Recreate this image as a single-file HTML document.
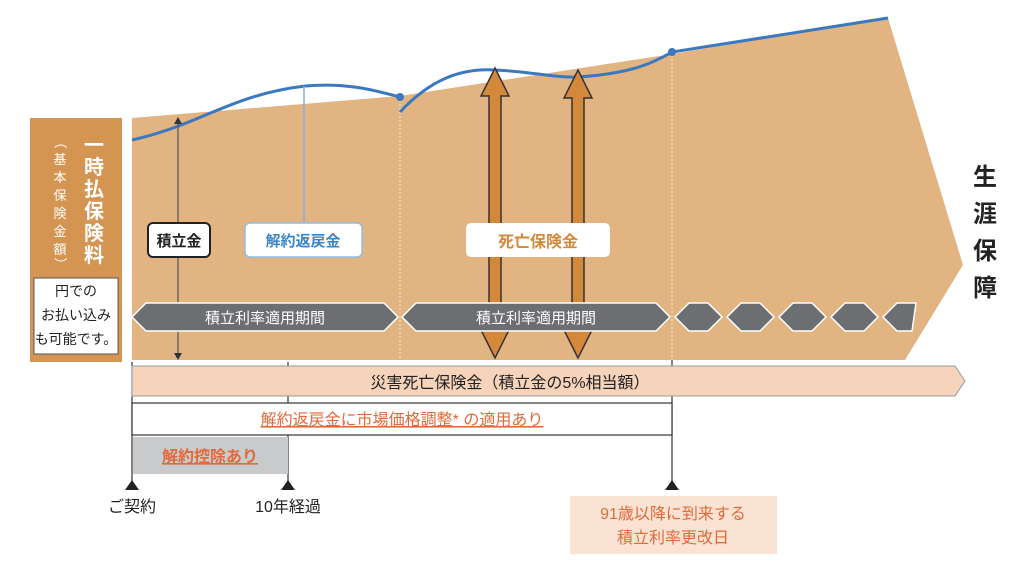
<!DOCTYPE html>
<html><head><meta charset="utf-8"><style>
body{margin:0;background:#fff}
svg text{font-family:"Liberation Sans","Noto Sans CJK JP",sans-serif}
</style></head><body>
<svg width="1024" height="568" viewBox="0 0 1024 568" xmlns="http://www.w3.org/2000/svg">
<polygon points="132,118 400,96 672,54 888,18 963,265 905,360 132,360" fill="#e2b482"/>
<line x1="400" y1="100" x2="400" y2="360" stroke="#f5e6d3" stroke-dasharray="2,2"/>
<line x1="672" y1="55" x2="672" y2="360" stroke="#f5e6d3" stroke-dasharray="2,2"/>
<rect x="30" y="118" width="92" height="244" fill="#d49552"/>
<rect x="34" y="278" width="84" height="76" fill="#fff" stroke="#555" stroke-width="1"/>
<text x="76" y="296" font-size="14" text-anchor="middle" fill="#222">円での</text>
<text x="76" y="320" font-size="14" text-anchor="middle" fill="#222">お払い込み</text>
<text x="76" y="344" font-size="14" text-anchor="middle" fill="#222">も可能です。</text>
<g font-size="20" font-weight="bold" fill="#fff" text-anchor="middle">
<text x="94" y="152">一</text><text x="94" y="174">時</text><text x="94" y="196">払</text><text x="94" y="218">保</text><text x="94" y="240">険</text><text x="94" y="262">料</text>
</g>
<g font-size="13" fill="#fff" text-anchor="middle">
<text x="60" y="146" transform="rotate(90 60 142)">（</text>
<text x="60" y="164">基</text><text x="60" y="182">本</text><text x="60" y="200">保</text><text x="60" y="218">険</text><text x="60" y="236">金</text><text x="60" y="254">額</text>
<text x="60" y="268" transform="rotate(90 60 264)">）</text>
</g>
<path d="M132,140 C200,125 230,95 305,86 C350,82 380,92 400,97" fill="none" stroke="#3a78bf" stroke-width="3"/>
<path d="M400,112 C430,80 460,68 495,70 C540,72 560,80 590,76 C630,72 650,65 672,52 L888,18" fill="none" stroke="#3a78bf" stroke-width="3"/>
<circle cx="400" cy="97" r="4" fill="#3a78bf"/>
<circle cx="672" cy="52" r="4" fill="#3a78bf"/>
<line x1="304" y1="86" x2="304" y2="222" stroke="#7fb0de" stroke-width="1.5"/>
<line x1="178" y1="122" x2="178" y2="354" stroke="#555" stroke-width="1.2"/>
<polygon points="174,124 182,124 178,117" fill="#333"/>
<polygon points="174,353 182,353 178,360" fill="#333"/>
<g fill="#d4883a" stroke="#333" stroke-width="1.5">
<polygon points="495,68 509,96 501,96 501,330 509,330 495,358 481,330 489,330 489,96 481,96"/>
<polygon points="578,70 592,98 584,98 584,330 592,330 578,358 564,330 572,330 572,98 564,98"/>
</g>
<rect x="148" y="223" width="62" height="34" rx="5" fill="#fff" stroke="#222" stroke-width="2"/>
<text x="179" y="246" font-size="15" font-weight="bold" text-anchor="middle" fill="#222">積立金</text>
<rect x="245" y="223" width="117" height="34" rx="5" fill="#fff" stroke="#8dbde8" stroke-width="1.5"/>
<text x="303" y="246" font-size="15" font-weight="bold" text-anchor="middle" fill="#3a86c8">解約返戻金</text>
<rect x="466" y="223" width="144" height="34" rx="5" fill="#fff"/>
<text x="538" y="247" font-size="16" font-weight="bold" text-anchor="middle" fill="#d4883a">死亡保険金</text>
<g fill="#6d6e71" stroke="#fff" stroke-width="1.5">
<polygon points="132,317 146,303 384,303 398,317 384,331 146,331"/>
<polygon points="402,317 416,303 656,303 670,317 656,331 416,331"/>
<polygon points="675,317 689,303 708,303 722,317 708,331 689,331"/>
<polygon points="727,317 741,303 760,303 774,317 760,331 741,331"/>
<polygon points="779,317 793,303 812,303 826,317 812,331 793,331"/>
<polygon points="831,317 845,303 864,303 878,317 864,331 845,331"/>
<polygon points="883,317 897,303 916,303 912,331 897,331"/>
</g>
<text x="265" y="323" font-size="15" text-anchor="middle" fill="#fff">積立利率適用期間</text>
<text x="536" y="323" font-size="15" text-anchor="middle" fill="#fff">積立利率適用期間</text>
<text x="985" y="185" font-size="24" font-weight="bold" text-anchor="middle" fill="#222">生</text>
<text x="985" y="222" font-size="24" font-weight="bold" text-anchor="middle" fill="#222">涯</text>
<text x="985" y="259" font-size="24" font-weight="bold" text-anchor="middle" fill="#222">保</text>
<text x="985" y="296" font-size="24" font-weight="bold" text-anchor="middle" fill="#222">障</text>
<line x1="132" y1="362" x2="132" y2="484" stroke="#333" stroke-width="1.2"/>
<line x1="288" y1="362" x2="288" y2="484" stroke="#333" stroke-width="1.2"/>
<line x1="672" y1="360" x2="672" y2="484" stroke="#333" stroke-width="1.2"/>
<polygon points="132,366 955,366 965,381 955,396 132,396" fill="#f6d3bb" stroke="#999" stroke-width="1"/>
<text x="510" y="388" font-size="16" text-anchor="middle" fill="#222">災害死亡保険金（積立金の5%相当額）</text>
<rect x="132" y="403" width="540" height="32" fill="#fff" stroke="#333" stroke-width="1.2"/>
<text x="402" y="425" font-size="16" text-anchor="middle" fill="#e06a3a" text-decoration="underline">解約返戻金に市場価格調整* の適用あり</text>
<rect x="133" y="437" width="155" height="37" fill="#c9cacc"/>
<text x="210" y="462" font-size="16" font-weight="bold" text-anchor="middle" fill="#e06a3a" text-decoration="underline">解約控除あり</text>
<polygon points="125,490 139,490 132,480" fill="#222"/>
<polygon points="281,490 295,490 288,480" fill="#222"/>
<polygon points="665,490 679,490 672,480" fill="#222"/>
<text x="132" y="512" font-size="16" text-anchor="middle" fill="#222">ご契約</text>
<text x="288" y="512" font-size="16" text-anchor="middle" fill="#222">10年経過</text>
<rect x="570" y="496" width="207" height="58" fill="#fbe3d3"/>
<text x="673" y="519" font-size="16" text-anchor="middle" fill="#e06a3a">91歳以降に到来する</text>
<text x="673" y="543" font-size="16" text-anchor="middle" fill="#e06a3a">積立利率更改日</text>
</svg>
</body></html>
